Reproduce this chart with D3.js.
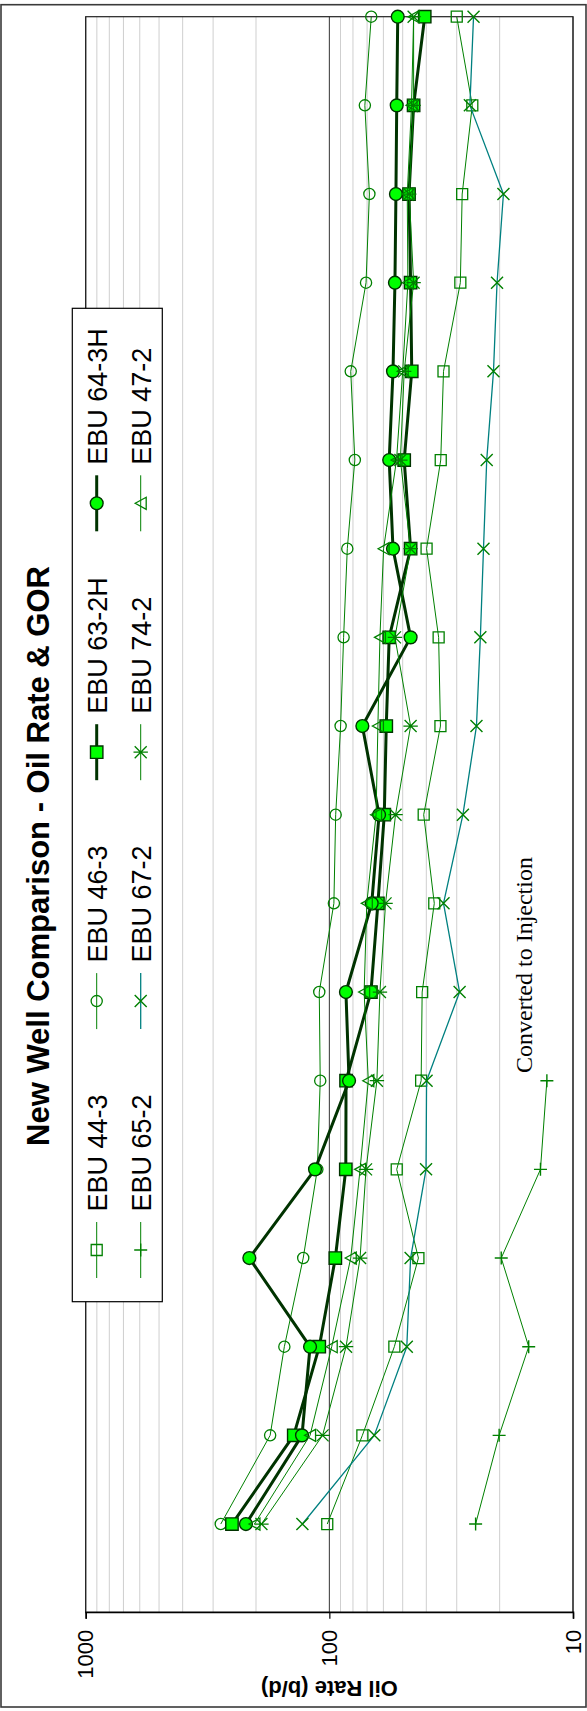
<!DOCTYPE html>
<html>
<head>
<meta charset="utf-8">
<script src="https://cdn.jsdelivr.net/npm/d3@7"></script>
<style>
  html, body { margin: 0; padding: 0; background: #fff; }
  svg { display: block; }
</style>
</head>
<body>
<svg id="chart" width="587" height="1711"></svg>
<script>
// Months since first production
const months = [1, 2, 3, 4, 5, 6, 7, 8, 9, 10, 11, 12, 13, 14, 15, 16, 17, 18];

// Oil rate per well, b/d
const ebu44_3  = [102, 73.2, 54.1, 43.1, 52.9, 42, 41.6, 37.1, 41, 35, 35.6, 39.9, 34.9, 34, 29, 28.5, 25.9, 30];
const ebu46_3  = [279, 175, 153, 128, 112, 109, 110, 95.8, 94.2, 89.9, 87.4, 84.4, 78.6, 81.7, 70.7, 68.5, 71.5, 67.3];
const ebu63_2H = [251, 140, 110, 94.5, 85.6, 85.4, 67.5, 63.2, 59.5, 58.4, 56.8, 46.4, 49.3, 45.9, 46.4, 47.1, 45.1, 40.6];
const ebu64_3H = [220, 129.5, 120, 213, 114.5, 83, 85.5, 67, 62.5, 73.2, 46.4, 54.8, 56.8, 54.8, 53.8, 53.3, 52.9, 52.4];
const ebu65_2  = [25.1, 20.1, 15.2, 19.7, 13.6, 12.8];
const ebu67_2  = [129, 65.4, 48.1, 46.4, 40.1, 39.9, 29.2, 34, 28.3, 24.9, 24, 23.3, 22.6, 21.2, 20.5, 19.3, 26.5, 25.6];
const ebu74_2  = [190, 106.6, 85.4, 74.8, 70.7, 63.8, 62, 58.8, 53.5, 46.4, 53.8, 46.4, 51.1, 49.3, 45.1, 47, 45.1, 45.1];
const ebu47_2  = [203, 120, 97.8, 81.7, 74.8, 69.2, 72, 70.2, 64.3, 63.2, 62, 59.9, 53, 50, 47.6, 47.9, 46, 45.1];

const seriesNames = ["EBU 44-3", "EBU 46-3", "EBU 63-2H", "EBU 64-3H", "EBU 65-2", "EBU 67-2", "EBU 74-2", "EBU 47-2"];
const seriesValues = [ebu44_3, ebu46_3, ebu63_2H, ebu64_3H, ebu65_2, ebu67_2, ebu74_2, ebu47_2];

const valueTicks = [10, 100, 1000];
const titleText = "New Well Comparison - Oil Rate & GOR";
const axisTitle = "Oil Rate (b/d)";
const noteText = "Converted to Injection";

// Drawing styles for each series, in the same order as seriesNames
const GREEN = "#008000", DARK = "#003300", LIME = "#00ff00", TEAL = "#008080";
const styles = [
  { line: GREEN, width: 1,   marker: "square",   r: 5.5, fill: "none", stroke: GREEN, sw: 1.3 },
  { line: GREEN, width: 1,   marker: "circle",   r: 5.6, fill: "none", stroke: GREEN, sw: 1.3 },
  { line: DARK,  width: 3,   marker: "square",   r: 6.2, fill: LIME,   stroke: DARK,  sw: 1.4 },
  { line: DARK,  width: 3,   marker: "circle",   r: 6.4, fill: LIME,   stroke: DARK,  sw: 1.4 },
  { line: GREEN, width: 1,   marker: "plus",     r: 6.5, fill: "none", stroke: GREEN, sw: 1.4 },
  { line: TEAL,  width: 1.3, marker: "x",        r: 6,   fill: "none", stroke: GREEN, sw: 1.4 },
  { line: GREEN, width: 1,   marker: "star",     r: 6,   fill: "none", stroke: GREEN, sw: 1.3 },
  { line: GREEN, width: 1,   marker: "triangle", r: 5.5, fill: "none", stroke: GREEN, sw: 1.3 }
];

function markerPath(type, r) {
  switch (type) {
    case "square":   return `M${-r},${-r}H${r}V${r}H${-r}Z`;
    case "circle":   return `M${r},0A${r},${r} 0 1,1 ${-r},0A${r},${r} 0 1,1 ${r},0Z`;
    case "triangle": return `M0,${-r}L${r * 1.1},${r}L${-r * 1.1},${r}Z`;
    case "plus":     return `M${-r},0H${r}M0,${-r}V${r}`;
    case "x":        return `M${-r},${-r}L${r},${r}M${-r},${r}L${r},${-r}`;
    case "star":     return `M${-r},${-r}L${r},${r}M${-r},${r}L${r},${-r}M0,${-r * 1.2}V${r * 1.2}`;
  }
}

// The chart is laid out in landscape and turned a quarter turn onto the tall page.
const PAGE_H = 1711;
const svg = d3.select("#chart");
const g = svg.append("g").attr("transform", `translate(0,${PAGE_H}) rotate(-90)`);

const plot = { left: 98.3, right: 1694.3, top: 85.7, bottom: 573 };

const x = d3.scaleLinear().domain([0, 18]).range([plot.left, plot.right]);
const y = d3.scaleLog().domain([10, 1000]).range([plot.bottom, plot.top]);

// Outer frame
g.append("rect")
  .attr("x", 4).attr("y", 1).attr("width", 1702.3).attr("height", 585)
  .attr("fill", "#fff").attr("stroke", "#3a3a3a").attr("stroke-width", 1.6);

// Gridlines: minor at 2..9 per decade, major at each decade
const minorVals = [];
[10, 100].forEach(dec => { for (let m = 2; m <= 9; m++) minorVals.push(dec * m); });
g.append("g").selectAll("line").data(minorVals).join("line")
  .attr("x1", plot.left).attr("x2", plot.right)
  .attr("y1", d => y(d)).attr("y2", d => y(d))
  .attr("stroke", "#cfcfcf").attr("stroke-width", 1);
g.append("g").selectAll("line").data(valueTicks).join("line")
  .attr("x1", plot.left).attr("x2", plot.right)
  .attr("y1", d => y(d)).attr("y2", d => y(d))
  .attr("stroke", "#333").attr("stroke-width", 1);

// Plot area border
g.append("rect")
  .attr("x", plot.left).attr("y", plot.top)
  .attr("width", plot.right - plot.left).attr("height", plot.bottom - plot.top)
  .attr("fill", "none").attr("stroke", "#222").attr("stroke-width", 1.2);

// Value axis (log)
const yAxis = d3.axisLeft(y).tickValues(valueTicks).tickSize(6).tickPadding(11)
  .tickFormat(d3.format("d"));
const yAxisG = g.append("g").attr("transform", `translate(${plot.left},0)`).call(yAxis);
yAxisG.select(".domain").attr("stroke", "#000").attr("stroke-width", 1.6);
yAxisG.selectAll(".tick line").attr("stroke", "#000").attr("stroke-width", 1.2);
yAxisG.selectAll(".tick text")
  .attr("font-family", "'Liberation Sans', Arial, sans-serif")
  .attr("font-size", 22).attr("fill", "#000");

// Axis title
g.append("text")
  .attr("transform", `translate(30,${(plot.top + plot.bottom) / 2}) rotate(-90)`)
  .attr("text-anchor", "middle")
  .attr("font-family", "'Liberation Sans', Arial, sans-serif")
  .attr("font-size", 22).attr("font-weight", "bold")
  .text(axisTitle);

// Chart title
g.append("text")
  .attr("x", 855).attr("y", 48.7)
  .attr("text-anchor", "middle")
  .attr("font-family", "'Liberation Sans', Arial, sans-serif")
  .attr("font-size", 31).attr("font-weight", "bold")
  .text(titleText);

// Series lines and markers
const lineGen = d3.line().x(d => x(d.m)).y(d => y(d.v));
seriesValues.forEach((vals, k) => {
  const st = styles[k];
  const pts = vals.map((v, i) => ({ m: months[i], v }));
  const sg = g.append("g");
  sg.append("path").datum(pts)
    .attr("d", lineGen).attr("fill", "none")
    .attr("stroke", st.line).attr("stroke-width", st.width)
    .attr("stroke-linejoin", "round");
  sg.selectAll("path.mk").data(pts).join("path").attr("class", "mk")
    .attr("transform", d => `translate(${x(d.m)},${y(d.v)})`)
    .attr("d", markerPath(st.marker, st.r))
    .attr("fill", st.fill).attr("stroke", st.stroke).attr("stroke-width", st.sw);
});

// Note beside the injection well
g.append("text")
  .attr("x", 638).attr("y", 531.7)
  .attr("font-family", "'Liberation Serif', 'Times New Roman', serif")
  .attr("font-size", 24).attr("fill", "#000")
  .text(noteText);

// Legend
const legend = { x: 409.3, y: 72.3, w: 993.4, h: 90, col0: 461, colStep: 248.9, rows: [96.7, 140.7] };
g.append("rect")
  .attr("x", legend.x).attr("y", legend.y).attr("width", legend.w).attr("height", legend.h)
  .attr("fill", "#fff").attr("stroke", "#000").attr("stroke-width", 1.2);
seriesNames.forEach((name, k) => {
  const st = styles[k];
  const cx = legend.col0 + legend.colStep * (k % 4);
  const cy = legend.rows[Math.floor(k / 4)];
  const lg = g.append("g");
  lg.append("line")
    .attr("x1", cx - 28).attr("x2", cx + 28).attr("y1", cy).attr("y2", cy)
    .attr("stroke", st.line).attr("stroke-width", st.width);
  lg.append("path")
    .attr("transform", `translate(${cx},${cy})`)
    .attr("d", markerPath(st.marker, st.r))
    .attr("fill", st.fill).attr("stroke", st.stroke).attr("stroke-width", st.sw);
  lg.append("text")
    .attr("x", cx + 38.5).attr("y", cy + 9.8)
    .attr("font-family", "'Liberation Sans', Arial, sans-serif")
    .attr("font-size", 27).attr("fill", "#000")
    .text(name);
});
</script>
</body>
</html>
